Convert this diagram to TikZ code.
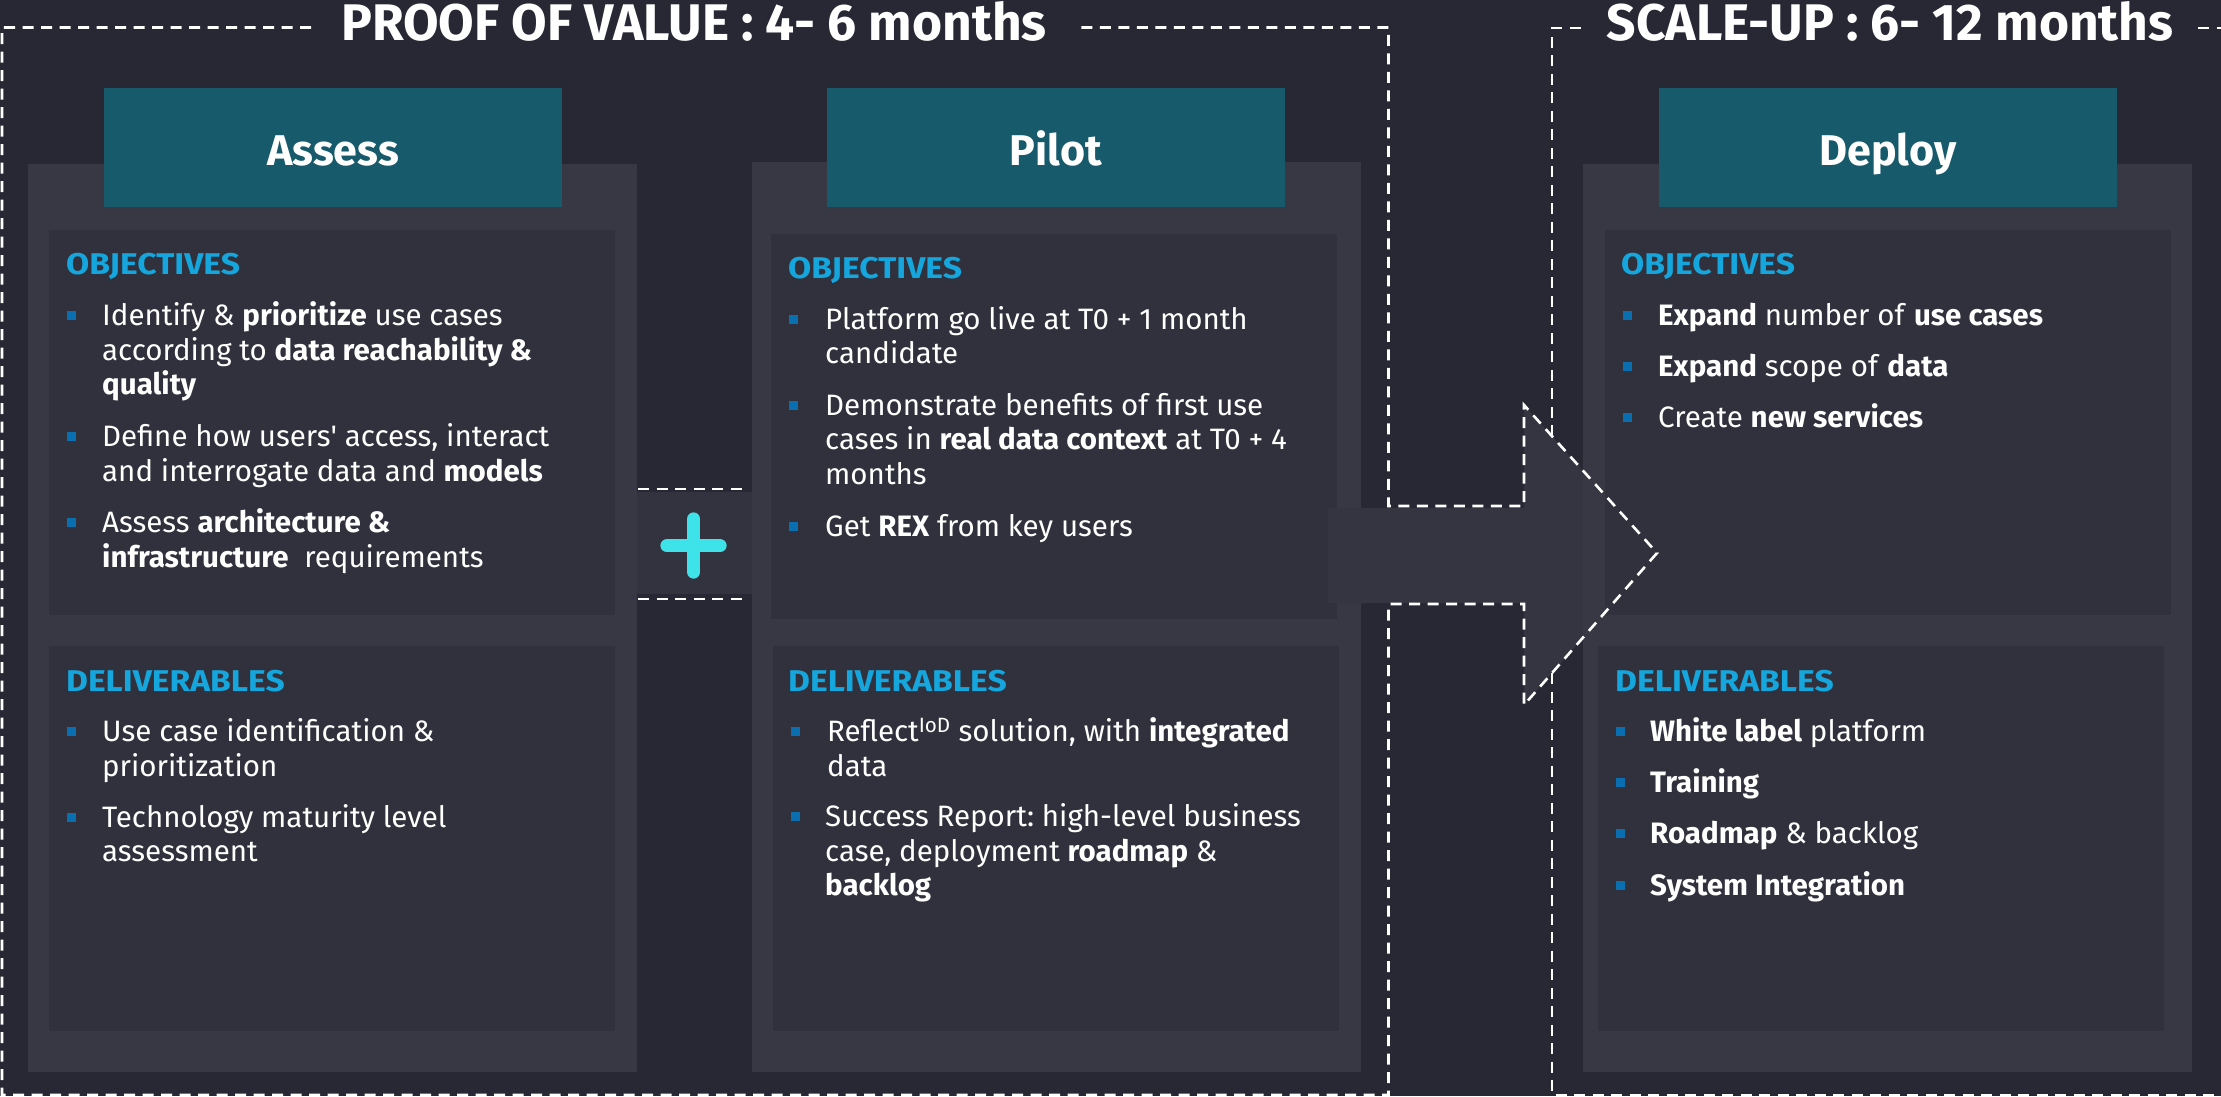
\documentclass[tikz,border=0pt]{standalone}
\usepackage{fontspec}
\IfFontExistsTF{FiraSans-Light.otf}{%
  \setmainfont{FiraSans}[Extension=.otf,UprightFont=*-Light,BoldFont=*-SemiBold]%
  \newfontfamily\titlefont{FiraSans}[Extension=.otf,UprightFont=*-Medium,BoldFont=*-Bold]%
}{%
  \setmainfont{Fira Sans}%
  \newfontfamily\titlefont{Fira Sans}%
}
\frenchspacing
\definecolor{bg}{HTML}{272834}
\definecolor{panel}{HTML}{383844}
\definecolor{inner}{HTML}{31313D}
\definecolor{head}{HTML}{165A6B}
\definecolor{hdtxt}{HTML}{14A6DC}
\definecolor{bulc}{HTML}{0A6FB0}
\definecolor{plusc}{HTML}{3DE3E8}
\definecolor{arrowc}{HTML}{343541}
\definecolor{joinc}{HTML}{32333F}
\tikzset{
  frame/.style={draw=white, line width=2.6pt, dash pattern=on 11pt off 7.5pt},
  body/.style={anchor=base west, inner sep=0pt, align=left, text=white,
    font=\fontsize{29.5}{34.6}\selectfont},
  heading/.style={anchor=base west, inner sep=0pt, text=hdtxt,
    font=\fontsize{30}{34}\selectfont\bfseries\addfontfeature{FakeStretch=1.12}},
  bul/.style={fill=bulc, minimum size=9pt, inner sep=0pt},
  toptitle/.style={anchor=base, inner sep=0pt, text=white,
    font=\fontsize{51.5}{56}\selectfont\titlefont\bfseries},
  hdtext/.style={anchor=base, inner sep=0pt, text=white,
    font=\fontsize{43}{48}\selectfont\titlefont\bfseries},
}
% name, bullet x, text x, first baseline, number of lines, text
\newcommand\bitem[6]{%
  \node[bul] (#1b) at (#2,#4-10) {};
  \node[body] (#1) at (#3,#4+#5*34.6-34.6) {#6};
}
\begin{document}
\begin{tikzpicture}[x=1pt,y=-1pt]
\useasboundingbox (0,0) rectangle (2221,1096);
\fill[bg] (0,0) rectangle (2221,1096);

% ---- Assess column
\fill[panel] (28,164) rectangle (637,1072);
\fill[inner] (49,230) rectangle (615,615);
\fill[inner] (49,646) rectangle (615,1031);
\fill[head] (104,88) rectangle (562,207);
\node[hdtext] (assess) at (333,165) {Assess};

% ---- join box with plus
\fill[joinc] (637,492) rectangle (752,594);
\draw[frame] (638,489) -- (744,489);
\draw[frame] (638,599) -- (744,599);
\draw[plusc, line width=13.3pt, line cap=round] (667,545.7) -- (720,545.7);
\draw[plusc, line width=13.3pt, line cap=round] (693.7,519) -- (693.7,572);

% ---- Pilot column
\fill[panel] (752,161.7) rectangle (1361,1072);
\fill[inner] (770.5,234) rectangle (1337,619);
\fill[inner] (772.5,646) rectangle (1339,1031);
\fill[head] (827,88) rectangle (1285,207);
\node[hdtext] (pilot) at (1056,165) {Pilot};

% ---- arrow
\fill[arrowc] (1328,508) -- (1524,508) -- (1524,405) -- (1657,553) -- (1524,705) -- (1524,603) -- (1328,603) -- cycle;

% ---- Deploy column
\fill[panel] (1583,164) rectangle (2192,1072);
\fill[inner] (1605,230) rectangle (2171,615);
\fill[inner] (1598,646) rectangle (2164,1031);
\fill[head] (1659,88) rectangle (2117,207);
\node[hdtext] (deploy) at (1888,165) {Deploy};

% ---- dashed frames
\draw[frame] (311,27.5) -- (2,27.5) -- (2,1095) -- (1388.5,1095) -- (1388.5,604) -- (1524,604) -- (1524,705) -- (1657,553) -- (1524,405) -- (1524,506) -- (1388.5,506) -- (1388.5,27.5) -- (1076,27.5);
\draw[frame] (1552,436) -- (1552,28) -- (1584,28);
\draw[frame] (2198,28) -- (2221,28);
\draw[frame] (1552,673) -- (1552,1095) -- (2221,1095);

% ---- titles
\node[toptitle] (pov) at (694,40) {PROOF OF VALUE : 4- 6 months};
\node[toptitle] (scale) at (1890,40) {SCALE-UP : 6- 12 months};

% ---- Assess text
\node[heading] (aobj) at (66,274.3) {OBJECTIVES};
\bitem{a1}{71.5}{102}{325.7}{3}{Identify \& \textbf{prioritize} use cases\\according to \textbf{data reachability \&}\\\textbf{quality}}
\bitem{a2}{71.5}{102}{446.7}{2}{Define how users\textquotesingle{} access, interact\\and interrogate data and \textbf{models}}
\bitem{a3}{71.5}{102}{532.7}{2}{Assess \textbf{architecture \&}\\\textbf{infrastructure}\ \ requirements}
\node[heading] (adel) at (66,691) {DELIVERABLES};
\bitem{a4}{71.5}{102}{741.7}{2}{Use case identification \&\\prioritization}
\bitem{a5}{71.5}{102}{827}{2}{Technology maturity level\\assessment}

% ---- Pilot text
\node[heading] (pobj) at (788,278.3) {OBJECTIVES};
\bitem{p1}{793.5}{825}{329.3}{2}{Platform go live at T0 + 1 month\\candidate}
\bitem{p2}{793.5}{825}{415}{3}{Demonstrate benefits of first use\\cases in \textbf{real data context} at T0 + 4\\months}
\bitem{p3}{793.5}{825}{536.7}{1}{Get \textbf{REX} from key users}
\node[heading] (pdel) at (788,691) {DELIVERABLES};
\bitem{p4}{795}{827}{741.7}{2}{Reflect\textsuperscript{IoD} solution, with \textbf{integrated}\\data}
\bitem{p5}{795}{825}{826.7}{3}{Success Report: high-level business\\case, deployment \textbf{roadmap} \&\\\textbf{backlog}}

% ---- Deploy text
\node[heading] (dobj) at (1621,274.3) {OBJECTIVES};
\bitem{d1}{1627.5}{1658}{325.7}{1}{\textbf{Expand} number of \textbf{use cases}}
\bitem{d2}{1627.5}{1658}{376.7}{1}{\textbf{Expand} scope of \textbf{data}}
\bitem{d3}{1627.5}{1658}{427.3}{1}{Create \textbf{new services}}
\node[heading] (ddel) at (1615,691) {DELIVERABLES};
\bitem{d4}{1620.5}{1650}{741.7}{1}{\textbf{White label} platform}
\bitem{d5}{1620.5}{1650}{792.7}{1}{\textbf{Training}}
\bitem{d6}{1620.5}{1650}{843.3}{1}{\textbf{Roadmap} \& backlog}
\bitem{d7}{1620.5}{1650}{895}{1}{\textbf{System Integration}}
\end{tikzpicture}
\end{document}
